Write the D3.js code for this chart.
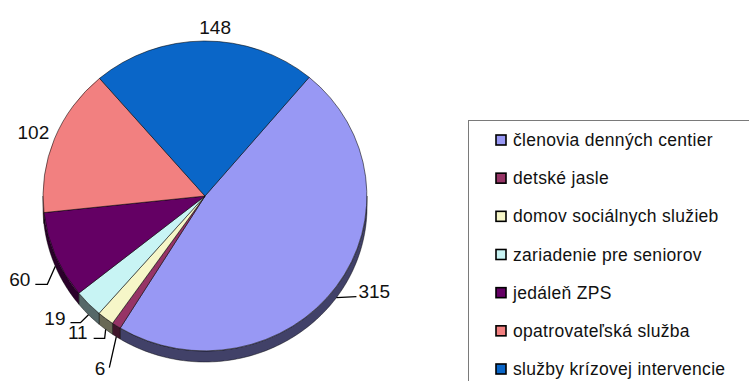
<!DOCTYPE html>
<html>
<head>
<meta charset="utf-8">
<script src="https://cdn.jsdelivr.net/npm/d3@7/dist/d3.min.js"></script>
<style>
  html, body { margin: 0; padding: 0; background: #fff; }
  svg { display: block; font-family: "Liberation Sans", Arial, sans-serif; }
</style>
</head>
<body>
<svg id="chart" width="749" height="381"></svg>
<script>
// Service categories and counts
const categories = [
  "členovia denných centier",
  "detské jasle",
  "domov sociálnych služieb",
  "zariadenie pre seniorov",
  "jedáleň ZPS",
  "opatrovateľská služba",
  "služby krízovej intervencie"
];
const values = [315, 6, 11, 19, 60, 102, 148];
const colors = ["#9898F4", "#963466", "#F6F6C8", "#C8F4F4", "#640064", "#F28080", "#0A66C8"];

// Label placement relative to each slice's rim point: leader end offset,
// elbow length, text anchor and text offset from the leader end.
const labelLayout = [
  { dx: 20, dy: -1, elbow: 0, anchor: "start", tx: 2, ty: 1, leader: true },
  { dx: -7, dy: 31, elbow: 0, anchor: "end", tx: -4, ty: 7, leader: true },
  { dx: -12, dy: 9, elbow: 11, anchor: "end", tx: -6, ty: 1, leader: true },
  { dx: -18, dy: 8, elbow: 10, anchor: "end", tx: -5, ty: 2, leader: true },
  { dx: -20, dy: 18, elbow: 12, anchor: "end", tx: -5, ty: 2, leader: true },
  { dx: -21, dy: -6, elbow: 0, anchor: "middle", tx: 0, ty: 0, leader: false },
  { dx: 11, dy: -14, elbow: 0, anchor: "middle", tx: 0, ty: 0, leader: false }
];

const svg = d3.select("#chart");
const cx = 205, cy = 196, rx = 162, ry = 155, depth = 11;
const startAngle = 40 * Math.PI / 180;

const pie = d3.pie().sort(null)
  .startAngle(startAngle).endAngle(startAngle + 2 * Math.PI);
const arcs = pie(values);

const pt = (a, dy = 0) => [cx + rx * Math.sin(a), cy - ry * Math.cos(a) + dy];
const line = d3.line();

// Side wall for the front half of the pie (angles between 90° and 270°)
const frontLo = Math.PI / 2, frontHi = 3 * Math.PI / 2;
const walls = svg.append("g");
arcs.forEach((d, i) => {
  const a0 = Math.max(d.startAngle, frontLo);
  const a1 = Math.min(d.endAngle, frontHi);
  if (a1 <= a0) return;
  const n = Math.max(4, Math.ceil((a1 - a0) / 0.02));
  const top = d3.range(n + 1).map(k => pt(a0 + (a1 - a0) * k / n));
  const bottom = d3.range(n + 1).map(k => pt(a1 - (a1 - a0) * k / n, depth));
  walls.append("path")
    .attr("d", line(top.concat(bottom)) + "Z")
    .attr("fill", d3.color(colors[i]).darker(2.4))
    .attr("stroke", "rgba(0,0,0,0.55)")
    .attr("stroke-width", 0.8);
});

// Top faces
const arc = d3.arc().innerRadius(0).outerRadius(1);
svg.append("g")
  .attr("transform", `translate(${cx},${cy}) scale(${rx},${ry})`)
  .selectAll("path")
  .data(arcs)
  .join("path")
  .attr("d", arc)
  .attr("fill", (d, i) => colors[i])
  .attr("stroke", "rgba(0,0,0,0.6)")
  .attr("stroke-width", 0.9)
  .attr("vector-effect", "non-scaling-stroke");

// Value labels with leader lines
const labels = svg.append("g").attr("font-size", 19).attr("fill", "#111");
arcs.forEach((d, i) => {
  const L = labelLayout[i];
  const mid = (d.startAngle + d.endAngle) / 2;
  const norm = ((mid % (2 * Math.PI)) + 2 * Math.PI) % (2 * Math.PI);
  const front = norm > frontLo && norm < frontHi;
  const rim = pt(mid, front ? depth : 0);
  const end = [rim[0] + L.dx, rim[1] + L.dy];
  if (L.leader) {
    const pts = [rim];
    if (L.elbow) pts.push([end[0] + Math.sign(-L.dx) * L.elbow, end[1]]);
    pts.push(end);
    labels.append("path")
      .attr("d", line(pts))
      .attr("fill", "none")
      .attr("stroke", "#000")
      .attr("stroke-width", 1.3);
  }
  const t = labels.append("text")
    .attr("x", end[0] + L.tx)
    .attr("y", end[1] + L.ty)
    .attr("text-anchor", L.anchor)
    .text(values[i]);
  if (!L.leader) t.attr("dominant-baseline", "central");
});

// Legend
const legend = svg.append("g");
legend.append("rect")
  .attr("x", 468.5).attr("y", 120.5)
  .attr("width", 300).attr("height", 300)
  .attr("fill", "#fff")
  .attr("stroke", "#7a7a7a")
  .attr("stroke-width", 1);

const rowY = d3.scalePoint().domain(categories).range([140, 369]);
const items = legend.selectAll("g.item")
  .data(categories)
  .join("g")
  .attr("class", "item")
  .attr("transform", d => `translate(0,${rowY(d)})`);
items.append("rect")
  .attr("x", 496).attr("y", -5)
  .attr("width", 10).attr("height", 10)
  .attr("fill", (d, i) => colors[i])
  .attr("stroke", "#000")
  .attr("stroke-width", 1.6);
items.append("text")
  .attr("x", 513).attr("y", 6)
  .attr("font-size", 17.5)
  .attr("letter-spacing", 0.3)
  .attr("fill", "#111")
  .text(d => d);
</script>
</body>
</html>
